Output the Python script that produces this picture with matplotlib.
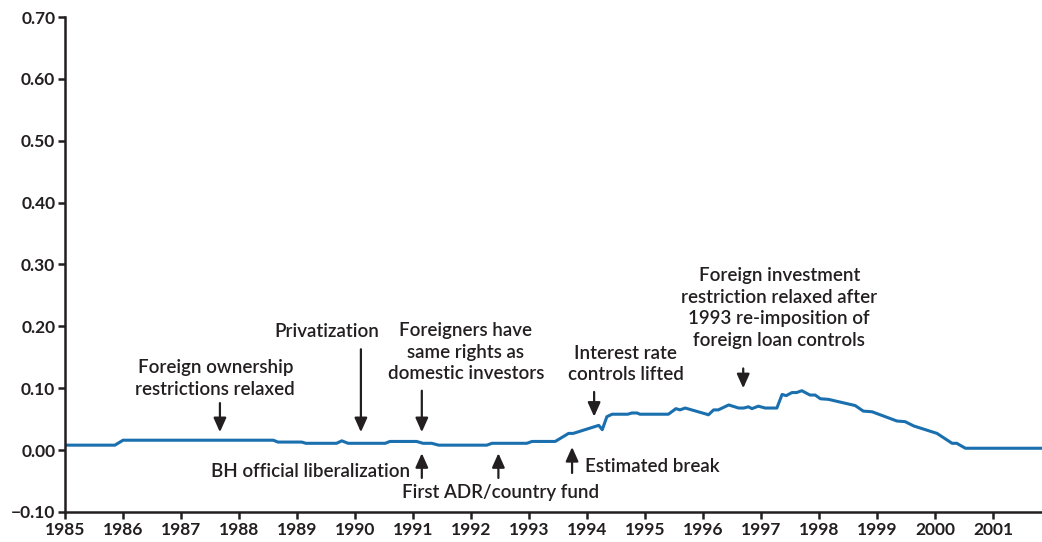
import matplotlib
matplotlib.use("Agg")
import matplotlib.pyplot as plt

plt.rcParams['font.family'] = ['Lato', 'DejaVu Sans']

# series (year, value)
years = [1985.0, 1985.86, 1986.0, 1988.59, 1988.67, 1989.08, 1989.15, 1989.68, 1989.77,
         1989.88, 1990.52, 1990.6, 1991.06, 1991.17, 1991.32, 1991.44, 1992.27, 1992.36,
         1992.96, 1993.05, 1993.45, 1993.68, 1993.76, 1994.2, 1994.26, 1994.34, 1994.43,
         1994.7, 1994.77, 1994.86, 1994.91, 1995.4, 1995.53, 1995.6, 1995.69, 1996.06,
         1996.09, 1996.18, 1996.26, 1996.44, 1996.61, 1996.7, 1996.78, 1996.84, 1996.95,
         1997.07, 1997.27, 1997.36, 1997.43, 1997.53, 1997.61, 1997.7, 1997.84, 1997.93,
         1998.02, 1998.16, 1998.62, 1998.76, 1998.91, 1999.34, 1999.48, 1999.63, 2000.03,
         2000.29, 2000.37, 2000.52, 2001.84]
values = [0.008, 0.008, 0.016, 0.016, 0.013, 0.013, 0.011, 0.011, 0.015,
          0.011, 0.011, 0.014, 0.014, 0.011, 0.011, 0.008, 0.008, 0.011,
          0.011, 0.014, 0.014, 0.027, 0.027, 0.040, 0.033, 0.054, 0.058,
          0.058, 0.060, 0.060, 0.058, 0.058, 0.067, 0.065, 0.068, 0.058,
          0.057, 0.065, 0.065, 0.073, 0.068, 0.068, 0.070, 0.067, 0.071,
          0.068, 0.068, 0.090, 0.088, 0.093, 0.093, 0.096, 0.089, 0.089,
          0.083, 0.082, 0.072, 0.063, 0.062, 0.047, 0.046, 0.039, 0.027,
          0.011, 0.011, 0.003, 0.003]

year_ticks = list(range(1985, 2002))
value_ticks = [-0.10, 0.00, 0.10, 0.20, 0.30, 0.40, 0.50, 0.60, 0.70]

# events: text, arrow x, arrow tail y, arrow head y, text x, text y, alignment
events_down = [
    ("Foreign ownership\nrestrictions relaxed", 1987.67, 0.076, 0.029, 1987.59, 0.116, 'center'),
    ("Privatization", 1990.10, 0.163, 0.029, 1989.52, 0.191, 'center'),
    ("Foreigners have\nsame rights as\ndomestic investors", 1991.15, 0.096, 0.029, 1991.91, 0.158, 'center'),
    ("Interest rate\ncontrols lifted", 1994.12, 0.094, 0.054, 1994.66, 0.139, 'center'),
    ("Foreign investment\nrestriction relaxed after\n1993 re-imposition of\nforeign loan controls",
     1996.69, 0.132, 0.100, 1997.31, 0.230, 'center'),
]
events_up = [
    ("BH official liberalization", 1991.15, -0.045, -0.005, 1990.95, -0.035, 'right'),
    ("First ADR/country fund", 1992.47, -0.045, -0.005, 1990.81, -0.069, 'left'),
    ("Estimated break", 1993.74, -0.037, 0.005, 1993.97, -0.027, 'left'),
]

fig = plt.figure(figsize=(10.42, 5.42), dpi=100)
ax = fig.add_axes([0.0624, 0.0554, 0.9376, 0.9132])

ax.plot(years, values, color='#1a6fae', linewidth=2.2, solid_joinstyle='round')

ax.set_xlim(1985, 2001.84)
ax.set_ylim(-0.10, 0.70)
ax.set_xticks(year_ticks)
ax.set_xticklabels([str(y) for y in year_ticks])
ax.set_yticks(value_ticks)
ax.set_yticklabels(['\u22120.10' if v < 0 else f'{v:.2f}' for v in value_ticks])

for s in ['top', 'right']:
    ax.spines[s].set_visible(False)
for s in ['left', 'bottom']:
    ax.spines[s].set_linewidth(1.8)
    ax.spines[s].set_color('#231f20')
ax.tick_params(direction='out', length=5, width=1.8, color='#231f20',
               labelsize=12.5, labelcolor='#231f20', pad=2)
for lab in ax.get_xticklabels() + ax.get_yticklabels():
    lab.set_fontweight('bold')

arrow = dict(arrowstyle='-|>,head_width=0.38,head_length=0.85', color='#231f20',
             linewidth=1.6, shrinkA=0, shrinkB=0)
for text, ax_x, y0, y1, tx, ty, ha in events_down + events_up:
    ax.annotate('', xy=(ax_x, y1), xytext=(ax_x, y0), arrowprops=arrow)
    ax.text(tx, ty, text, ha=ha, va='center', fontsize=13.5, color='#231f20',
            fontweight='semibold', linespacing=1.32, multialignment='center')

fig.savefig('out.png', dpi=100, facecolor='white')
